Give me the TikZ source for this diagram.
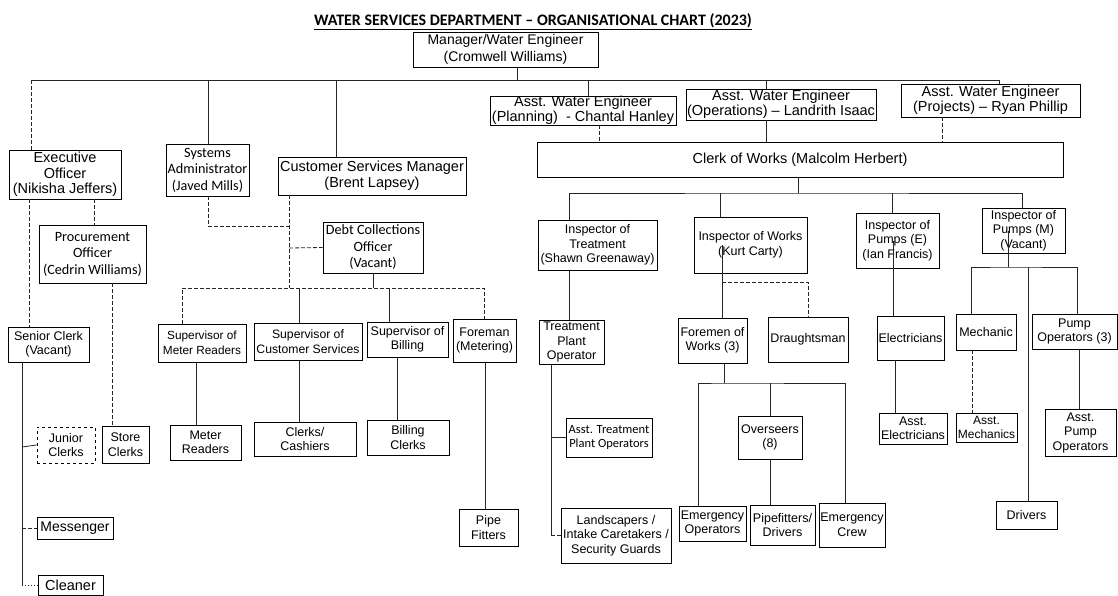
\documentclass[tikz,border=0pt]{standalone}
\usepackage{fontspec}
\setmainfont{Liberation Sans}
\newfontfamily\calib{Carlito}
\newcommand\fA{\fontsize{14.5}{15.5}\selectfont}
\newcommand\fB{\fontsize{12.5}{14.5}\selectfont}
\newcommand\fC{\calib\fontsize{14.2}{16.5}\selectfont}
\newcommand\fD{\calib\fontsize{12.5}{14}\selectfont}
\begin{document}
\begin{tikzpicture}[x=1pt,y=-1pt,
  box/.style={draw=black,line width=0.9pt,inner sep=0pt,align=center,font=\fA},
  sz/.style 2 args={minimum width=#1pt,minimum height=#2pt},
  ln/.style={line width=0.8pt,black!85},
  dsh/.style={ln,dash pattern=on 4pt off 2pt},
  dot/.style={ln,dash pattern=on 1pt off 2pt},
  ttl/.style={font=\calib\bfseries\fontsize{16}{17}\selectfont,inner sep=0pt}]
\fill[white] (0,0) rectangle (1118,596);
\useasboundingbox (0,0) rectangle (1118,596);

\node[ttl] (title) at (533,22) {\underline{WATER SERVICES DEPARTMENT – ORGANISATIONAL CHART (2023)}};

% top levels
\node[box,sz={185}{35},font=\fontsize{14}{17}\selectfont] (mgr) at (505.5,49.5) {Manager/Water Engineer\\(Cromwell Williams)};
\node[box,sz={186}{29}] (plan) at (583,110.5) {Asst. Water Engineer\\(Planning)\ \ - Chantal Hanley};
\node[box,sz={190}{31}] (ops) at (781,104.5) {Asst. Water Engineer\\(Operations) -- Landrith Isaac};
\node[box,sz={179}{33}] (proj) at (990.5,100.5) {Asst. Water Engineer\\(Projects) – Ryan Phillip};
\node[box,sz={526}{35}] (clerk) at (800,159.5) {Clerk of Works (Malcolm Herbert)};
\node[box,sz={112}{49}] (exec) at (65,174.5) {Executive\\Officer\\(Nikisha Jeffers)};
\node[box,sz={83}{52},font=\fC] (sys) at (207.5,170) {Systems\\Administrator\\(Javed Mills)};
\node[box,sz={188}{38}] (csm) at (372,176) {Customer Services Manager\\(Brent Lapsey)};

% left branch
\node[box,sz={107}{58},font=\fC] (proc) at (92.5,254) {Procurement\\Officer\\(Cedrin Williams)};
\node[box,sz={100}{51},font=\fC] (debt) at (373,247.5) {Debt Collections\\Officer\\(Vacant)};
\node[box,sz={81}{35},font=\fB] (senior) at (48.5,344.5) {Senior Clerk\\(Vacant)};
\node[box,sz={88}{38},font=\fontsize{11.8}{14.5}\selectfont] (supmr) at (202,343) {Supervisor of\\Meter Readers};
\node[box,sz={108}{37},font=\fontsize{12.2}{14.5}\selectfont] (supcs) at (308,341.5) {Supervisor of\\Customer Services};
\node[box,sz={81}{35},font=\fB] (supbill) at (407.5,339.5) {Supervisor of\\Billing};
\node[box,sz={63}{43},font=\fB] (foreman) at (484.5,340.5) {Foreman\\(Metering)};
\node[box,sz={58}{36},font=\fB,dashed] (junior) at (66,445) {Junior\\Clerks};
\node[box,sz={47}{37},font=\fB] (store) at (125.5,444.5) {Store\\Clerks};
\node[box,sz={71}{35},font=\fB] (meter) at (205.5,442.5) {Meter\\Readers};
\node[box,sz={102}{34},font=\fB] (cashiers) at (305,439) {Clerks/\\Cashiers};
\node[box,sz={82}{35},font=\fB] (billclerks) at (408,437.5) {Billing\\Clerks};
\node[box,sz={59}{37},font=\fB] (pipe) at (488.5,527.5) {Pipe\\Fitters};
\node[box,sz={76}{22},font=\fontsize{14}{15}\selectfont] (messenger) at (75,528) {Messenger};
\node[box,sz={65}{20.5}] (cleaner) at (70.5,585.25) {Cleaner};

% right branch
\node[box,sz={119}{50},font=\fB] (treat) at (597.5,245) {Inspector of\\Treatment\\(Shawn Greenaway)};
\node[box,sz={113}{56},font=\fB] (works) at (750.5,245) {Inspector of Works\\(Kurt Carty)};
\node[box,sz={83}{55},font=\fB] (pumpsE) at (897.5,240.5) {Inspector of\\Pumps (E)\\(Ian Francis)};
\node[box,sz={83}{45},font=\fB] (pumpsM) at (1023.5,230.5) {Inspector of\\Pumps (M)\\(Vacant)};
\node[box,sz={65}{44},font=\fB] (tpo) at (571.5,342) {Treatment\\Plant\\Operator};
\node[box,sz={69}{45},font=\fB] (foremen) at (712.5,340.5) {Foremen of\\Works (3)};
\node[box,sz={80}{45},font=\fB] (draught) at (808,339.5) {Draughtsman};
\node[box,sz={67}{44},font=\fB] (elec) at (910.5,338) {Electricians};
\node[box,sz={60}{36},font=\fB] (mech) at (986,332) {Mechanic};
\node[box,sz={85}{35},font=\fB] (pumpops) at (1074.5,331.5) {Pump\\Operators (3)};
\node[box,sz={86}{39},font=\fD] (asstTPO) at (609,437.5) {Asst. Treatment\\Plant Operators};
\node[box,sz={110}{55},font=\fB] (landsc) at (616,535.5) {Landscapers /\\Intake Caretakers /\\Security Guards};
\node[box,sz={64}{43},font=\fB] (overseers) at (770,437.5) {Overseers\\(8)};
\node[box,sz={67}{35},font=\fB] (emops) at (712.5,523.5) {Emergency\\Operators};
\node[box,sz={65}{40},font=\fB] (pipedrv) at (782.5,525) {Pipefitters/\\Drivers};
\node[box,sz={66}{44},font=\fB] (emcrew) at (852,525) {Emergency\\Crew};
\node[box,sz={68}{31},font=\fB] (asstelec) at (913,428.5) {Asst.\\Electricians};
\node[box,sz={61}{29},font=\fontsize{12}{14}\selectfont] (asstmech) at (986.5,427.5) {Asst.\\Mechanics};
\node[box,sz={71}{47},font=\fB] (asstpump) at (1080.5,432.5) {Asst.\\Pump\\Operators};
\node[box,sz={61}{28},font=\fB] (drivers) at (1026.5,515) {Drivers};

% junction coordinates
\coordinate (L1) at (517,80);
\coordinate (eL) at (31,80);
\coordinate (L2) at (798,193);
\coordinate (L3) at (373,288);
\coordinate (L4) at (724,383);
\coordinate (L5) at (1008,267);
\coordinate (sv) at (22,447);

% top connectors
\draw[ln] (mgr.south -| L1) -- (L1);
\draw[ln] (eL) -| (proj.north -| 999,0);
\draw[dsh] (exec.north -| eL) -- (eL);
\draw[ln] (sys.north -| 208,0) -- (208,80);
\draw[ln] (csm.north -| 336,0) -- (336,80);
\draw[ln] (plan.north -| 588,0) -- (588,80);
\draw[ln] (ops.north -| 766,0) -- (766,80);

% to clerk of works
\draw[dsh] (plan.south -| 599,0) -- (clerk.north -| 599,0);
\draw[ln] (ops.south -| 766,0) -- (clerk.north -| 766,0);
\draw[dsh] (proj.south -| 942,0) -- (clerk.north -| 942,0);

% inspectors
\draw[ln] (clerk.south -| L2) -- (L2);
\draw[ln] (treat.north -| 569,0) |- (L2) -| (pumpsM.north -| 1022,0);
\draw[ln] (works.north -| 720,0) -- (720,193);
\draw[ln] (pumpsE.north -| 892,0) -- (892,193);

% treatment
\draw[ln] (treat.south -| 569,0) -- (tpo.north -| 569,0);
\draw[ln] (tpo.south -| 551,0) -- (landsc.west -| 551,0);
\draw[dsh] (landsc.west -| 551,0) -- (landsc.west);
\draw[ln] (asstTPO.west -| 551,0) -- (asstTPO.west);

% works
\draw[ln] (works.center -| 722,0) -- (foremen.north -| 722,0);
\draw[dsh] (722,282) -| (draught.north -| 808,0);
\draw[ln] (foremen.south -| L4) -- (L4);
\draw[ln] (emops.north -| 698,0) |- (L4) -| (emcrew.north -| 845,0);
\draw[ln] (overseers.north -| 770,0) -- (770,383);
\draw[ln] (overseers.south -| 770,0) -- (pipedrv.north -| 770,0);

% pumps E
\draw[ln] (pumpsE.center -| 893,0) -- (elec.north -| 893,0);
\draw[ln] (elec.south -| 895,0) -- (asstelec.north -| 895,0);

% pumps M
\draw[ln] (pumpsM.center -| L5) -- (L5);
\draw[ln] (mech.north -| 971,0) |- (L5) -| (pumpops.north -| 1077,0);
\draw[ln] (drivers.north -| 1028,0) -- (1028,267);
\draw[dsh] (mech.south -| 972,0) -- (asstmech.north -| 972,0);
\draw[ln] (pumpops.south -| 1079,0) -- (asstpump.north -| 1079,0);

% executive officer
\draw[dsh] (exec.south -| 29,0) -- (senior.north -| 29,0);
\draw[dsh] (exec.south -| 94,0) -- (proc.north -| 94,0);
\draw[dsh] (proc.south -| 112,0) -- (store.north -| 112,0);
\draw[ln] (senior.south -| sv) -- (cleaner.west -| sv);
\draw[dot] (cleaner.west -| sv) -- (cleaner.west);
\draw[ln] (sv) -- (junior.west);
\draw[dsh] (messenger.west -| sv) -- (messenger.west);

% customer services
\draw[dsh] (sys.south -| 208,0) |- (289,226);
\draw[dsh] (csm.south -| 289,0) -- (289,288);
\draw[dsh] (289,248) -- (debt.west);
\draw[ln] (debt.south -| L3) -- (L3);
\draw[dsh] (supmr.north -| 182,0) |- (L3) -| (foreman.north -| 484,0);
\draw[ln] (supcs.north -| 299,0) -- (299,288);
\draw[ln] (supbill.north -| 389,0) -- (389,288);
\draw[ln] (supmr.south -| 196,0) -- (meter.north -| 196,0);
\draw[ln] (supcs.south -| 299,0) -- (cashiers.north -| 299,0);
\draw[ln] (supbill.south -| 397,0) -- (billclerks.north -| 397,0);
\draw[ln] (foreman.south -| 485,0) -- (pipe.north -| 485,0);
\end{tikzpicture}
\end{document}
